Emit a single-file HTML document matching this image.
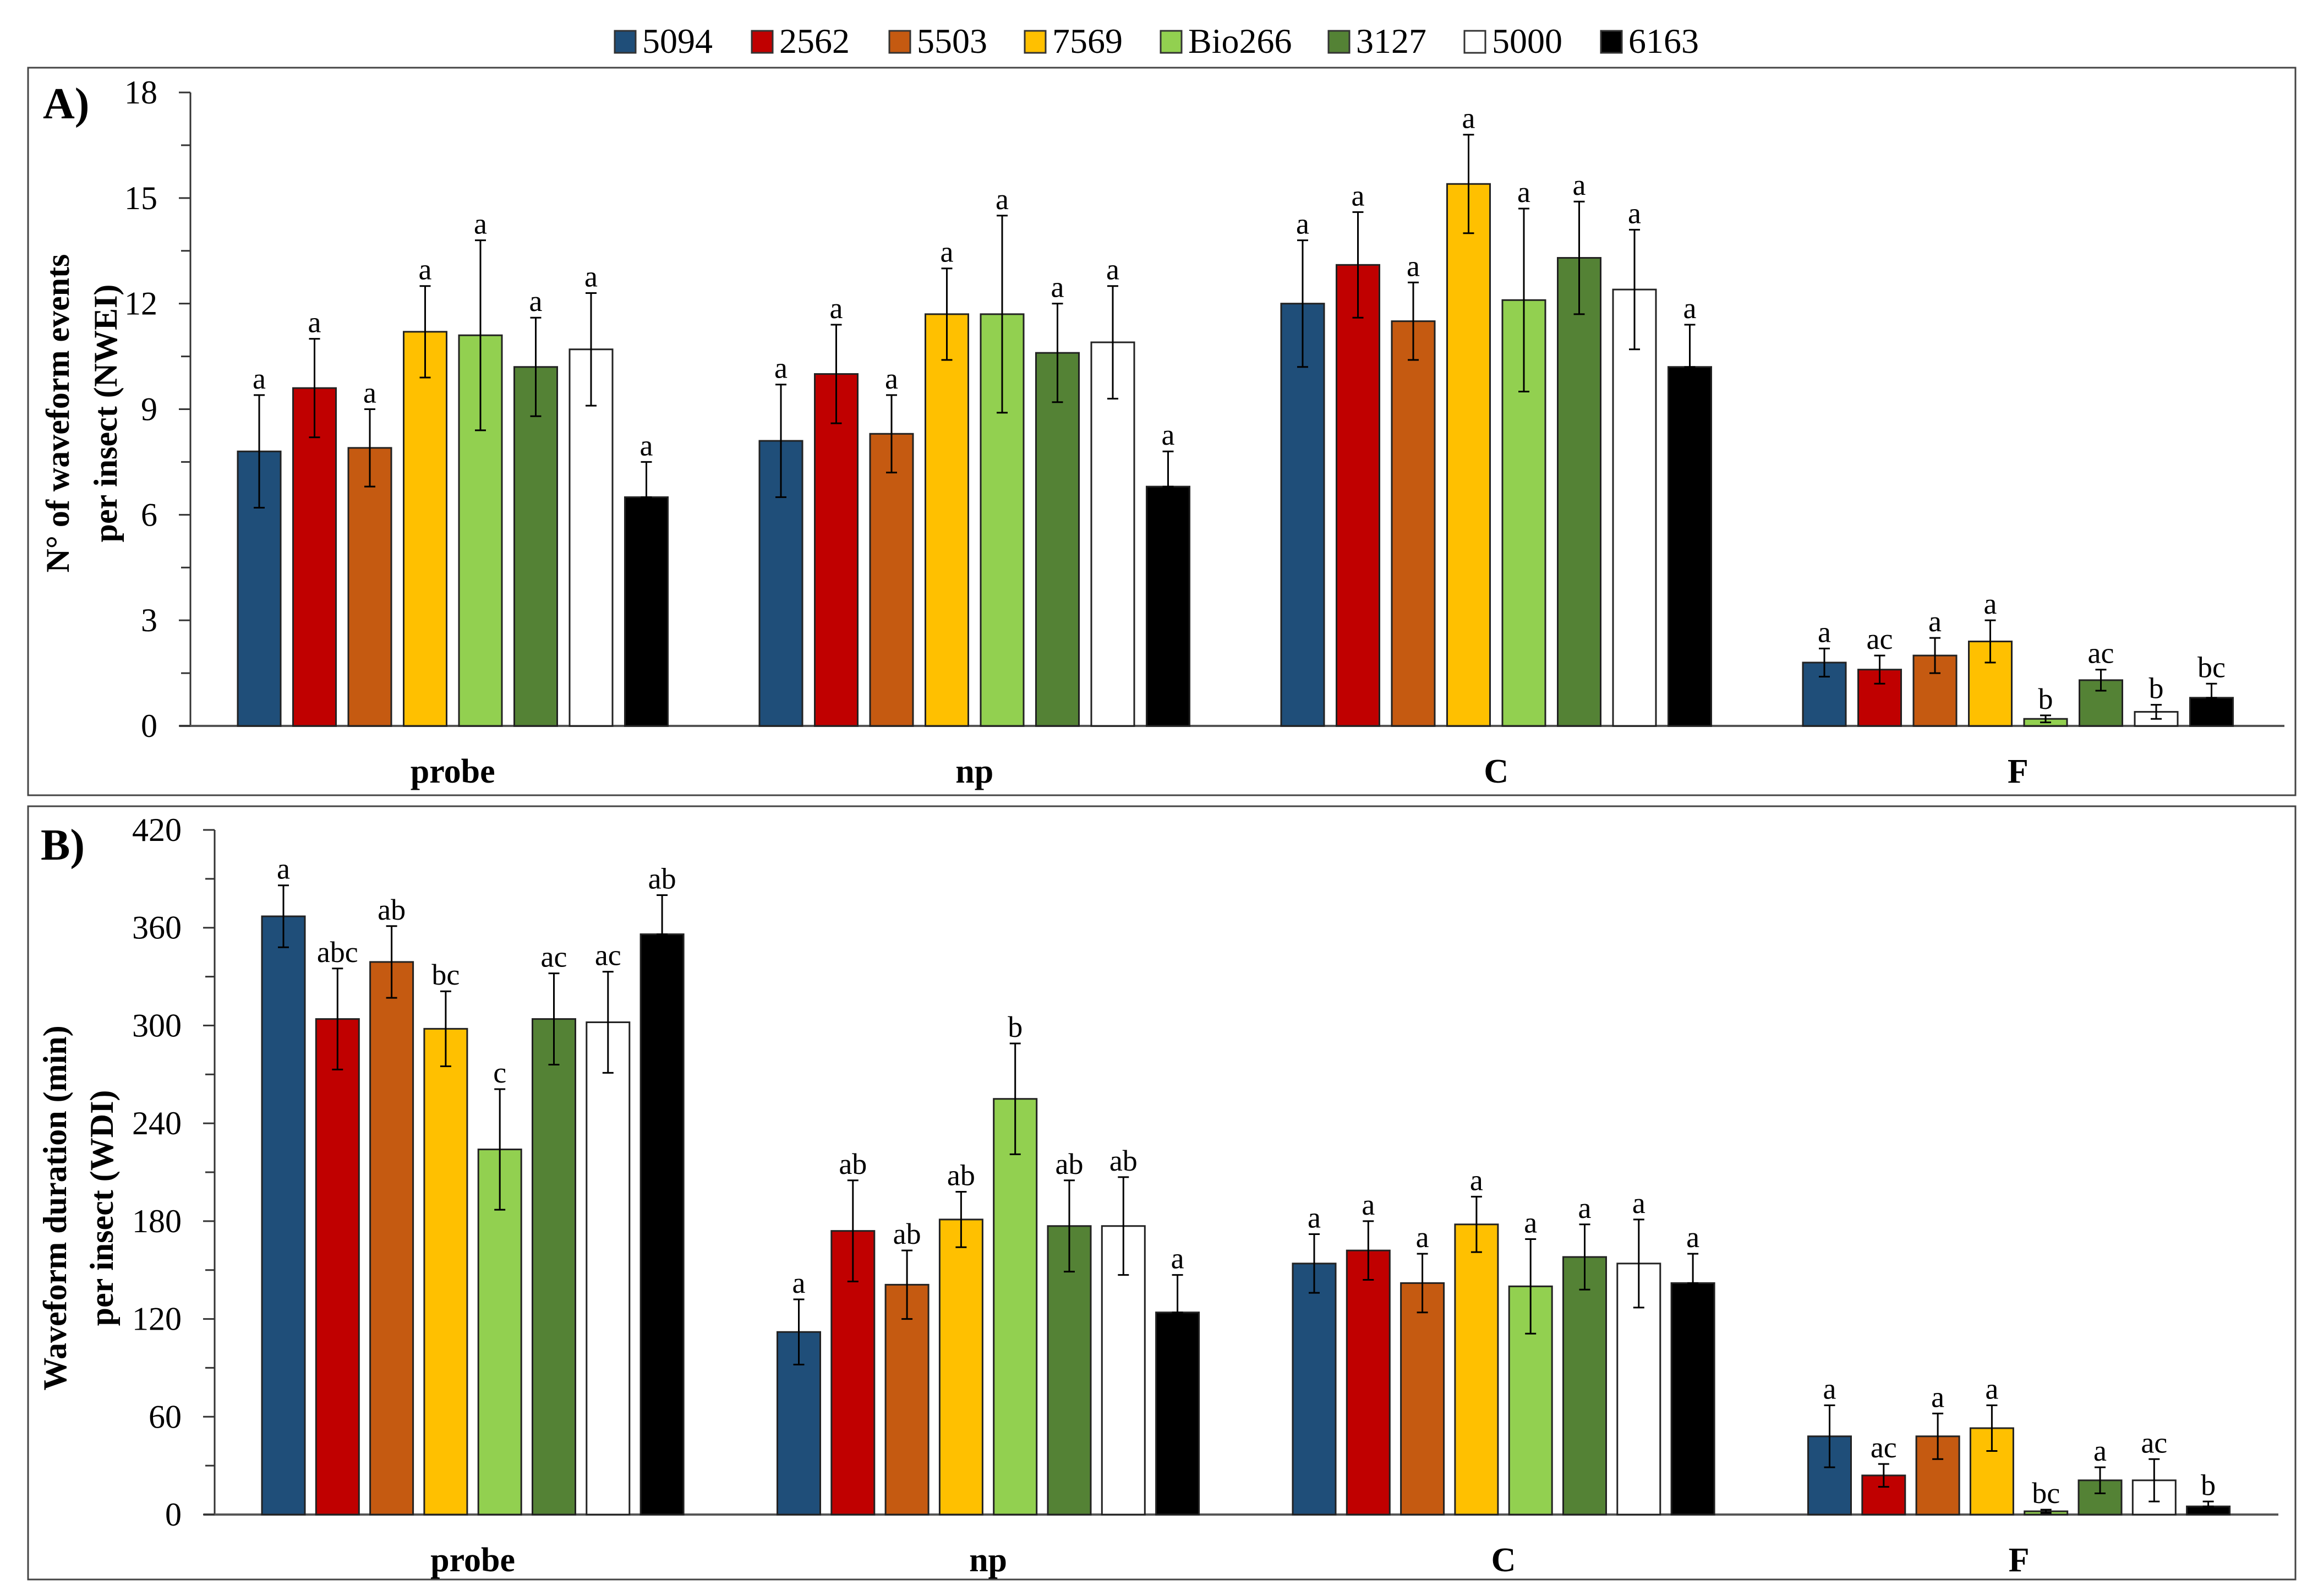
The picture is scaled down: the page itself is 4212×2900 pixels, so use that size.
<!DOCTYPE html>
<html><head><meta charset="utf-8">
<style>
html,body{margin:0;padding:0;background:#fff;}
svg{display:block;font-family:"Liberation Serif",serif;}
</style></head>
<body>
<svg id="chart" width="4212" height="2900" viewBox="0 0 4212 2900" xmlns="http://www.w3.org/2000/svg">
<g id="legend"></g>
<rect x="51" y="123" width="4120" height="1322" fill="none" stroke="#444" stroke-width="3"/>
<rect x="51" y="1465" width="4120" height="1405" fill="none" stroke="#444" stroke-width="3"/>
<text x="78" y="215" font-size="80" font-weight="bold">A)</text>
<text x="74" y="1562" font-size="80" font-weight="bold">B)</text>
<text transform="translate(125,751) rotate(-90)" text-anchor="middle" font-size="60" font-weight="bold">N° of waveform events</text>
<text transform="translate(212,751) rotate(-90)" text-anchor="middle" font-size="60" font-weight="bold">per insect  (NWEI)</text>
<text transform="translate(120,2195) rotate(-90)" text-anchor="middle" font-size="60" font-weight="bold">Waveform duration (min)</text>
<text transform="translate(205,2195) rotate(-90)" text-anchor="middle" font-size="60" font-weight="bold">per insect (WDI)</text>
<g id="panelA"></g>
<g id="panelB"></g>
</svg>
<script>
const series = ["5094","2562","5503","7569","Bio266","3127","5000","6163"];
const colors = ["#1F4E79","#C00000","#C55A11","#FFC000","#92D050","#548235","#FFFFFF","#000000"];
const categories = ["probe","np","C","F"];
const ticksA = [0,3,6,9,12,15,18];
const ticksB = [0,60,120,180,240,300,360,420];
// Panel A values (NWEI)
const valA_probe = [7.8,9.6,7.9,11.2,11.1,10.2,10.7,6.5];
const valA_np = [8.1,10.0,8.3,11.7,11.7,10.6,10.9,6.8];
const valA_C = [12.0,13.1,11.5,15.4,12.1,13.3,12.4,10.2];
const valA_F = [1.8,1.6,2.0,2.4,0.2,1.3,0.4,0.8];
const errA_probe = [1.6,1.4,1.1,1.3,2.7,1.4,1.6,1.0];
const errA_np = [1.6,1.4,1.1,1.3,2.8,1.4,1.6,1.0];
const errA_C = [1.8,1.5,1.1,1.4,2.6,1.6,1.7,1.2];
const errA_F = [0.4,0.4,0.5,0.6,0.1,0.3,0.2,0.4];
const lblA_probe = ["a","a","a","a","a","a","a","a"];
const lblA_np = ["a","a","a","a","a","a","a","a"];
const lblA_C = ["a","a","a","a","a","a","a","a"];
const lblA_F = ["a","ac","a","a","b","ac","b","bc"];
// Panel B values (WDI)
const valB_probe = [367,304,339,298,224,304,302,356];
const valB_np = [112,174,141,181,255,177,177,124];
const valB_C = [154,162,142,178,140,158,154,142];
const valB_F = [48,24,48,53,2,21,21,5];
const errB_probe = [19,31,22,23,37,28,31,24];
const errB_np = [20,31,21,17,34,28,30,23];
const errB_C = [18,18,18,17,29,20,27,18];
const errB_F = [19,7,14,14,1,8,13,3];
const lblB_probe = ["a","abc","ab","bc","c","ac","ac","ab"];
const lblB_np = ["a","ab","ab","ab","b","ab","ab","a"];
const lblB_C = ["a","a","a","a","a","a","a","a"];
const lblB_F = ["a","ac","a","a","bc","a","ac","b"];

const NS="http://www.w3.org/2000/svg";
function mk(tag,attrs,parent){const e=document.createElementNS(NS,tag);for(const k in attrs)e.setAttribute(k,attrs[k]);parent.appendChild(e);return e;}

// legend
const lg=document.getElementById('legend');
const legX=[1117,1366,1616,1862,2109,2414,2661,2909];
series.forEach((s,i)=>{
  const r=mk('rect',{x:legX[i],y:56,width:38,height:40,fill:colors[i],stroke:'#333','stroke-width':3},lg);
  
  
  const t=mk('text',{x:legX[i]+50,y:96,'font-size':64},lg);
  t.textContent=s;
  
  
});

function panel(g,cfg){
  const y=v=>cfg.base-(v-0)*(cfg.base-cfg.top)/cfg.max;
  // axis
  const ax=mk('line',{x1:cfg.axisX,y1:cfg.top,x2:cfg.axisX,y2:cfg.base,stroke:'#333','stroke-width':3},g);
  
  
  const bx=mk('line',{x1:cfg.axisX-20,y1:cfg.base,x2:cfg.axisEnd,y2:cfg.base,stroke:'#555','stroke-width':4},g);
  
  
  cfg.ticks.forEach((t,i)=>{
    const tl=mk('line',{x1:cfg.axisX-21,y1:y(t),x2:cfg.axisX,y2:y(t),stroke:'#333','stroke-width':3},g);
    
    
    const tx=mk('text',{x:cfg.axisX-60,y:y(t)+20,'font-size':60,'text-anchor':'end'},g);
    tx.textContent=t;
    
    
    if(i<cfg.ticks.length-1){
      const m=(t+cfg.ticks[i+1])/2;
      const ml=mk('line',{x1:cfg.axisX-17,y1:y(m),x2:cfg.axisX,y2:y(m),stroke:'#333','stroke-width':3},g);
      
      
    }
  });
  categories.forEach((c,ci)=>{
    const x0=cfg.start+ci*cfg.gpitch;
    const vals=cfg.vals[ci],errs=cfg.errs[ci],lbls=cfg.lbls[ci];
    vals.forEach((v,i)=>{
      const bxp=x0+i*cfg.bpitch;
      const r=mk('rect',{x:bxp,y:y(v),width:cfg.bw,height:cfg.base-y(v),fill:colors[i],stroke:'#222','stroke-width':3},g);
      
      
      const cx=bxp+cfg.bw/2;
      const lo=(i===7)?v:v-errs[i];
      const e=mk('path',{d:`M${cx},${y(v+errs[i])}V${y(lo)}M${cx-10},${y(v+errs[i])}h20M${cx-10},${y(lo)}h20`,stroke:'#000','stroke-width':3,fill:'none'},g);
      
      
      const l=mk('text',{x:cx,y:y(v+errs[i])-12,'font-size':54,'text-anchor':'middle'},g);
      l.textContent=lbls[i];
      
      
    });
    const gc=x0+(7*cfg.bpitch+cfg.bw)/2;
    const cl=mk('text',{x:gc,y:cfg.labelY,'font-size':62,'font-weight':'bold','text-anchor':'middle'},g);
    cl.textContent=c;
    
    
  });
}
panel(document.getElementById('panelA'),{id:'a',top:168,base:1319,max:18,axisX:346,axisEnd:4151,ticks:ticksA,
  start:432,gpitch:948,bpitch:100.5,bw:78,labelY:1422,
  vals:[valA_probe,valA_np,valA_C,valA_F],errs:[errA_probe,errA_np,errA_C,errA_F],lbls:[lblA_probe,lblA_np,lblA_C,lblA_F]});
panel(document.getElementById('panelB'),{id:'b',top:1508,base:2752,max:420,axisX:390,axisEnd:4140,ticks:ticksB,
  start:476,gpitch:936.5,bpitch:98.3,bw:78,labelY:2855,
  vals:[valB_probe,valB_np,valB_C,valB_F],errs:[errB_probe,errB_np,errB_C,errB_F],lbls:[lblB_probe,lblB_np,lblB_C,lblB_F]});
</script>
</body></html>
